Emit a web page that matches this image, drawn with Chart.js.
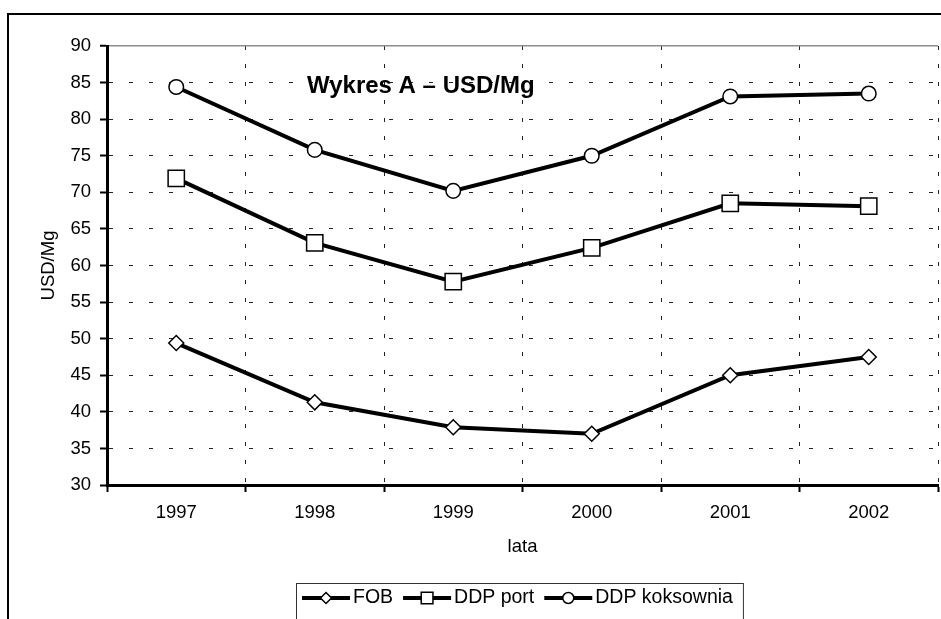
<!DOCTYPE html>
<html>
<head>
<meta charset="utf-8">
<script src="https://cdn.jsdelivr.net/npm/chart.js@4.4.1/dist/chart.umd.min.js"></script>
<style>
    html, body { margin: 0; padding: 0; background: #fff; overflow: hidden; }
    #wrap { width: 941px; height: 619px; }
</style>
</head>
<body>
<div id="wrap"><canvas id="priceChart" width="941" height="619"></canvas></div>
<script>
// values (USD/Mg)
const years = ['1997', '1998', '1999', '2000', '2001', '2002'];
const fob = [49.4, 41.3, 37.9, 37.0, 45.0, 47.5];
const ddpPort = [71.9, 63.1, 57.8, 62.4, 68.5, 68.1];
const ddpKoksownia = [84.4, 75.8, 70.2, 75.0, 83.1, 83.5];
const seriesLabels = ['FOB', 'DDP port', 'DDP koksownia'];
const yRange = [30, 90];
const yStep = 5;

const FONT = "'Liberation Sans', Arial, sans-serif";
Chart.defaults.font.family = FONT;
Chart.defaults.color = '#000';

// white page and the outer chart frame (cut off on the right and bottom)
const framePlugin = {
    id: 'frame',
    beforeDraw(chart) {
        const ctx = chart.ctx;
        ctx.save();
        ctx.fillStyle = '#fff';
        ctx.fillRect(0, 0, chart.width, chart.height);
        ctx.strokeStyle = '#000';
        ctx.lineWidth = 2;
        ctx.strokeRect(8, 14, chart.width + 20, chart.height + 20);
        ctx.restore();
    }
};

const titlePlugin = {
    id: 'innerTitle',
    afterDatasetsDraw(chart) {
        const ctx = chart.ctx;
        ctx.save();
        ctx.font = 'bold 24px ' + FONT;
        ctx.fillStyle = '#000';
        ctx.textBaseline = 'alphabetic';
        ctx.fillText('Wykres A \u2013 USD/Mg', 307, 92.5);
        ctx.restore();
    }
};

// legend drawn as line + marker samples inside a box
const legendPlugin = {
    id: 'lineLegend',
    afterDraw(chart) {
        const ctx = chart.ctx;
        const markerSize = { circle: 5.5, rect: 8.3, rectRot: 5.5 };
        const textY = 598;
        let x = 302;
        ctx.save();
        ctx.font = '19.5px ' + FONT;
        ctx.textBaseline = 'middle';
        chart.data.datasets.forEach(ds => {
            ctx.strokeStyle = '#000';
            ctx.lineWidth = 4;
            ctx.beginPath();
            ctx.moveTo(x, textY);
            ctx.lineTo(x + 48, textY);
            ctx.stroke();
            ctx.fillStyle = '#fff';
            ctx.lineWidth = 1.5;
            Chart.helpers.drawPoint(ctx, {
                pointStyle: ds.pointStyle,
                radius: markerSize[ds.pointStyle],
                rotation: 0,
                borderWidth: 1.5
            }, x + 24, textY);
            ctx.fillStyle = '#000';
            ctx.fillText(ds.label, x + 51, textY);
            x += 51 + ctx.measureText(ds.label).width + 10;
        });
        ctx.strokeStyle = '#333';
        ctx.lineWidth = 1;
        ctx.strokeRect(296.5, 583.5, x - 296, 60);
        ctx.restore();
    }
};

function lineSet(label, data, style, radius) {
    return {
        label: label,
        data: data,
        borderColor: '#000',
        borderWidth: 4,
        tension: 0,
        pointStyle: style,
        pointRadius: radius,
        pointHoverRadius: radius,
        pointBackgroundColor: '#fff',
        pointBorderColor: '#000',
        pointBorderWidth: 1.5
    };
}

const lastX = years.length;

new Chart(document.getElementById('priceChart').getContext('2d'), {
    type: 'line',
    data: {
        labels: years,
        datasets: [
            lineSet(seriesLabels[0], fob, 'rectRot', 7.5),
            lineSet(seriesLabels[1], ddpPort, 'rect', 11.5),
            lineSet(seriesLabels[2], ddpKoksownia, 'circle', 7.3)
        ]
    },
    options: {
        responsive: false,
        animation: false,
        devicePixelRatio: 1,
        layout: {
            autoPadding: false,
            padding: { left: 0, top: 46, right: 3, bottom: 54 }
        },
        plugins: {
            legend: { display: false },
            tooltip: { enabled: false }
        },
        scales: {
            x: {
                offset: true,
                grid: {
                    offset: true,
                    color: ctx => ctx.index === lastX ? '#8c8c8c' : (ctx.index === 0 ? 'rgba(0,0,0,0)' : '#222'),
                    lineWidth: ctx => ctx.index === lastX ? 2 : 1,
                    tickLength: 7,
                    tickColor: '#000',
                    tickWidth: 2
                },
                border: {
                    color: '#000',
                    width: 3,
                    dash: ctx => ctx.index === lastX ? [] : [4, 14]
                },
                ticks: {
                    font: { size: 18.5 },
                    padding: 10
                },
                title: {
                    display: true,
                    text: 'lata',
                    font: { size: 18.5 },
                    padding: { top: 0, bottom: 7 }
                },
                afterFit(scale) {
                    scale.height = 80;
                }
            },
            y: {
                min: yRange[0],
                max: yRange[1],
                grid: {
                    color: ctx => ctx.tick && ctx.tick.value === yRange[1] ? '#8c8c8c' : '#222',
                    lineWidth: ctx => ctx.tick && ctx.tick.value === yRange[1] ? 1.5 : 1,
                    tickLength: 7,
                    tickColor: '#000',
                    tickWidth: 2
                },
                border: {
                    color: '#000',
                    width: 3,
                    dash: ctx => ctx.tick && ctx.tick.value === yRange[1] ? [] : [4, 16]
                },
                ticks: {
                    stepSize: yStep,
                    font: { size: 18.5 },
                    padding: 9
                },
                title: {
                    display: true,
                    text: 'USD/Mg',
                    font: { size: 18.5 },
                    padding: { top: 38, bottom: 0 }
                },
                afterFit(scale) {
                    scale.width = 107;
                }
            }
        }
    },
    plugins: [framePlugin, titlePlugin, legendPlugin]
});
</script>
</body>
</html>
